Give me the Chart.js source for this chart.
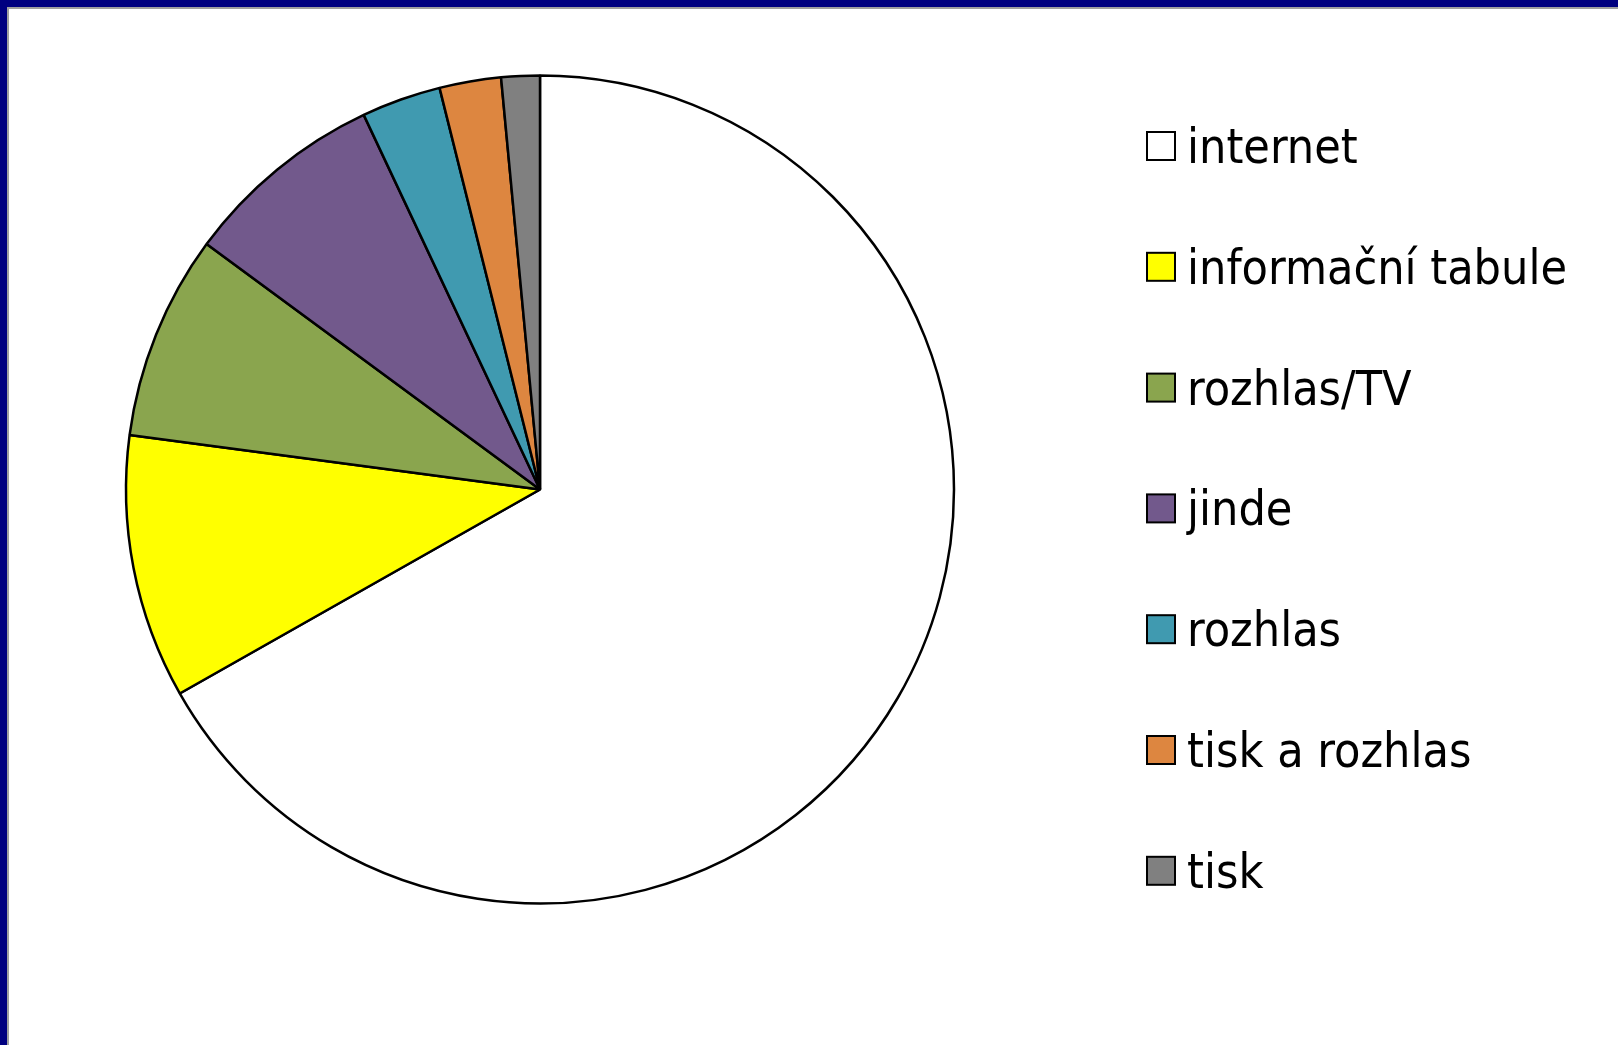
<!DOCTYPE html>
<html>
<head>
<meta charset="utf-8">
<script src="https://cdn.jsdelivr.net/npm/chart.js@4.4.1/dist/chart.umd.min.js"></script>
<style>
    html, body { margin: 0; padding: 0; background: #fff; overflow: hidden; }
    #frame {
        width: 1611px; height: 1038px;
        border-top: 7px solid #000080;
        border-left: 7px solid #000080;
    }
    #inner {
        width: 1609px; height: 1036px;
        border-top: 2px solid #a0a0a0;
        border-left: 2px solid #a0a0a0;
    }
    canvas { display: block; }
</style>
</head>
<body>
<div id="frame"><div id="inner">
    <canvas id="sourcesPie" width="1609" height="1036"></canvas>
</div></div>

<script>
// where people get their information (share, %)
const sources = ["internet", "informační tabule", "rozhlas/TV", "jinde", "rozhlas", "tisk a rozhlas", "tisk"];
const shares = [66.8, 10.3, 8.0, 7.9, 3.1, 2.4, 1.5];
const sliceColors = ["#ffffff", "#ffff00", "#8aa54e", "#72598c", "#409ab0", "#dd8640", "#808080"];

// legend on the right, drawn by hand so rows line up with the slide
const sideLegend = {
    id: "sideLegend",
    afterDraw(chart) {
        const ctx = chart.ctx;
        const ds = chart.data.datasets[0];
        const boxX = 1138, boxSize = 28, textX = 1178;
        const firstY = 137, rowGap = 120.8;

        ctx.save();
        ctx.font = '48px "DejaVu Sans Condensed", "DejaVu Sans", sans-serif';
        ctx.textBaseline = "alphabetic";
        chart.data.labels.forEach((label, i) => {
            const cy = firstY + i * rowGap;
            ctx.fillStyle = ds.backgroundColor[i];
            ctx.fillRect(boxX, cy - boxSize / 2, boxSize, boxSize);
            ctx.lineWidth = 2;
            ctx.strokeStyle = "#000";
            ctx.strokeRect(boxX, cy - boxSize / 2, boxSize, boxSize);
            ctx.fillStyle = "#000";
            ctx.fillText(label, textX, cy + 17);
        });
        ctx.restore();
    }
};

const ctx = document.getElementById("sourcesPie").getContext("2d");

new Chart(ctx, {
    type: "pie",
    data: {
        labels: sources,
        datasets: [{
            data: shares,
            backgroundColor: sliceColors,
            borderColor: "#000",
            borderWidth: 2.5,
            radius: 414
        }]
    },
    options: {
        responsive: false,
        animation: false,
        layout: { padding: { left: 3, top: 1, right: 550, bottom: 76 } },
        plugins: {
            legend: { display: false },
            tooltip: { enabled: false }
        }
    },
    plugins: [sideLegend]
});
</script>
</body>
</html>
